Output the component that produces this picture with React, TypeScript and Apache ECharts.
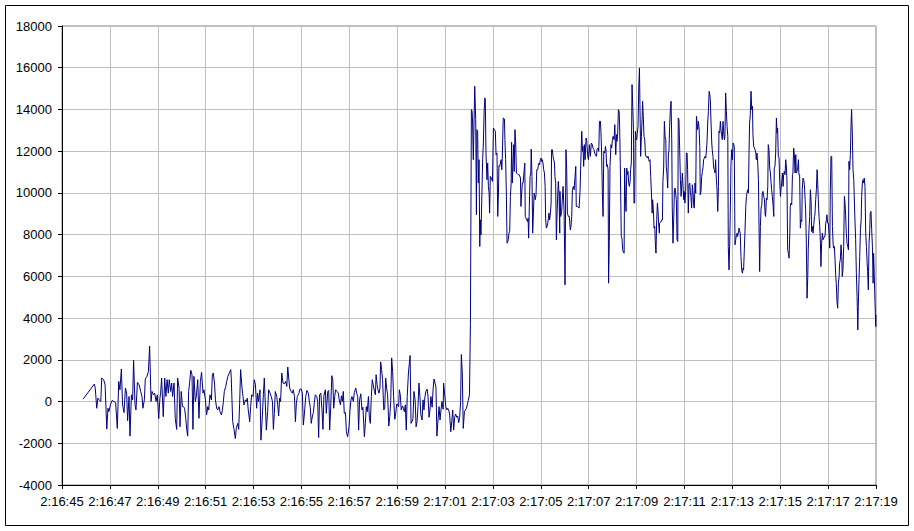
import React, { useEffect, useRef } from "react";
import * as echarts from "echarts";

// x: seconds after 2:16:45, y: value
const yTicks = { min: -4000, max: 18000, step: 2000 };
const xRange = { min: 0, max: 34, step: 2 };
const startTime = { h: 2, m: 16, s: 45 };

const lowPart1: [number, number][] = [
  [0.88,113],[1.35,837],[1.39,644],[1.45,-322],[1.50,161],[1.57,48],[1.62,0],[1.66,1127],[1.74,1047],[1.80,805],
  [1.87,-1320],[1.92,-322],[1.96,-483],[2.02,-161],[2.09,48],[2.17,0],[2.24,-48],[2.31,-1288],[2.37,966],[2.42,564],
  [2.48,1562],[2.53,-161],[2.59,-531],[2.65,644],[2.70,403],[2.74,-918],[2.80,242],[2.84,-1658],[2.90,322],[2.95,80],
  [2.99,1980],[3.05,-161],[3.09,-403],[3.15,918],[3.22,805],[3.29,483],[3.34,242],[3.38,-322],[3.44,80],[3.48,1079],
  [3.55,1208],[3.61,1449],[3.66,2657],[3.69,1369],[3.72,0],[3.76,483],[3.82,322],[3.87,403],[3.93,0],[3.98,322],
  [4.04,-821],[4.09,161],
];
const lowPart2: [number, number][] = [
  [4.12,403],[4.16,1127],[4.23,-725],[4.29,1127],[4.34,242],[4.39,1047],[4.44,403],[4.48,1047],[4.54,483],[4.58,886],
  [4.62,242],[4.68,886],[4.73,-805],[4.79,-1336],[4.83,1127],[4.89,644],[4.93,-1208],[4.98,483],[5.03,-242],[5.07,-242],
  [5.12,-322],[5.17,-805],[5.21,-1336],[5.25,-1658],[5.29,483],[5.33,886],[5.38,1497],[5.43,1288],[5.47,-1336],[5.51,1208],
  [5.57,0],[5.61,242],[5.67,1047],[5.72,-805],[5.78,966],[5.83,1401],[5.89,403],[5.93,564],[5.99,80],[6.04,-644],
  [6.09,-242],[6.13,-403],[6.18,322],[6.24,80],[6.28,1288],[6.32,1369],[6.37,886],[6.41,80],[6.46,-322],[6.50,-403],
  [6.56,-242],[6.60,-483],[6.66,-644],[6.70,-403],[6.74,0],[6.78,483],[6.84,725],[6.88,966],[6.93,1208],[6.99,1369],
  [7.05,1530],[7.07,1127],[7.13,-966],[7.19,-1369],[7.24,-1771],[7.28,-1288],[7.34,-1047],[7.38,-1336],[7.42,-80],[7.46,1530],
  [7.52,644],[7.56,242],[7.60,-161],[7.66,80],[7.70,0],[7.74,161],[7.78,-403],[7.84,-966],[7.88,-242],[7.92,322],
  [7.98,242],[8.03,1047],[8.08,805],[8.13,-322],[8.17,403],[8.21,0],[8.27,564],[8.31,-1851],[8.36,-886],[8.41,322],
  [8.45,1127],
];
const lowPart3: [number, number][] = [
  [8.535,-1369],[8.59,-483],[8.63,564],[8.69,403],[8.74,242],[8.79,0],[8.83,-1336],[8.87,-564],[8.91,483],[8.97,242],
  [9.01,-161],[9.05,-692],[9.09,161],[9.13,0],[9.18,1369],[9.23,886],[9.29,853],[9.34,966],[9.39,725],[9.43,1658],
  [9.47,1127],[9.51,644],[9.57,483],[9.62,403],[9.66,564],[9.71,242],[9.75,-966],[9.79,-80],[9.83,242],[9.89,370],
  [9.94,596],[10.0,596],[10.04,403],[10.08,-1127],[10.12,-644],[10.18,242],[10.23,531],[10.29,403],[10.33,0],[10.37,-274],
  [10.41,-1047],[10.46,-692],[10.50,-531],[10.54,-48],[10.58,322],[10.64,242],[10.68,0],[10.72,-1723],[10.76,322],[10.81,403],
  [10.86,-403],[10.90,-1336],[10.94,274],[11.0,564],[11.04,-564],[11.10,483],[11.14,531],[11.18,-1369],[11.22,-403],[11.27,1240],
  [11.31,1047],[11.35,-322],[11.39,242],[11.43,564],[11.49,483],[11.54,403],[11.58,80],[11.63,-161],[11.67,274],[11.71,0],
  [11.75,483],[11.79,-564],[11.84,-531],[11.88,-1449],[11.93,-1690],[11.99,-1208],[12.03,-403],[12.07,80],[12.11,242],[12.17,0],
  [12.21,435],[12.27,644],[12.31,403],[12.35,242],[12.39,-1369],[12.43,80],[12.48,370],[12.53,-403],[12.57,-274],[12.63,-1690],
];
const lowPart4: [number, number][] = [
  [12.67,-1047],[12.71,-242],[12.75,-483],[12.80,242],[12.84,-805],[12.88,-1047],[12.92,242],[12.96,1047],[13.0,805],[13.05,483],
  [13.09,322],[13.12,1288],[13.16,805],[13.2,564],[13.24,403],[13.28,644],[13.31,1900],[13.35,1530],[13.39,1047],[13.44,-403],
  [13.48,-322],[13.52,1127],[13.56,644],[13.60,322],[13.65,-1175],[13.69,-725],[13.73,0],[13.77,2093],[13.81,1449],[13.85,242],
  [13.90,-853],[13.94,-564],[13.98,-113],[14.02,-161],[14.06,-242],[14.09,564],[14.13,322],[14.17,-403],[14.22,-209],[14.26,-322],
  [14.30,-483],[14.34,-161],[14.38,-1369],[14.42,242],[14.47,1369],[14.51,1852],[14.54,2206],[14.58,-1047],[14.62,-966],[14.66,-805],
  [14.70,483],[14.75,80],[14.79,-1208],[14.83,-966],[14.87,-242],[14.91,886],[14.95,242],[14.99,-644],[15.04,-886],[15.08,80],
  [15.12,-403],[15.16,242],[15.20,483],[15.25,596],[15.29,242],[15.33,-757],[15.37,-403],[15.41,242],[15.46,-274],[15.5,596],
  [15.54,1079],[15.58,886],[15.62,692],[15.66,-1658],[15.71,-805],[15.75,-242],[15.79,-886],[15.83,-403],[15.87,0],[15.92,-370],
  [15.94,886],[15.98,403],[16.03,-242],[16.07,-403],[16.11,-322],[16.15,-403],[16.19,-596],[16.24,-1449],[16.28,-966],[16.32,-403],
  [16.36,-1369],[16.40,-757],[16.44,-596],[16.49,-757],[16.53,-692],[16.57,-1014],[16.61,-757],[16.65,0],[16.68,2254],[16.72,1369],
  [16.76,-1288],[16.81,-483],[16.85,-403],[16.89,-322],[16.93,-161],[16.97,48],[17.02,322],
];
const highPart1: [number, number][] = [
  [17.06,3752],[17.10,13992],[17.13,13912],[17.15,13352],[17.18,11592],[17.21,13352],[17.24,15112],[17.28,13512],[17.31,8952],[17.33,13032],
  [17.36,12952],[17.39,10472],[17.42,11592],[17.45,7432],[17.47,8712],[17.50,7992],[17.53,9512],[17.57,11592],[17.60,12392],[17.63,13832],
  [17.66,14552],[17.68,14472],[17.71,11912],[17.75,10632],[17.78,11432],[17.81,10312],[17.84,9992],[17.86,9032],[17.89,10792],[17.93,10712],
  [17.98,10552],[18.02,13112],[18.06,13032],[18.10,12952],[18.13,11832],[18.17,11912],[18.20,8872],[18.23,9992],[18.25,11304],[18.28,11272],
  [18.31,11432],[18.34,11592],[18.37,11112],[18.39,11672],[18.43,13592],[18.48,13544],[18.50,12552],[18.53,11592],[18.56,9992],[18.59,7592],
  [18.62,7672],[18.64,7752],[18.67,8072],[18.70,8152],[18.73,9832],[18.76,10472],[18.78,12424],[18.81,10472],[18.84,11432],[18.87,12312],
  [18.89,11032],[18.92,13032],[18.95,12392],[18.98,10952],[19.02,10920],[19.06,10872],[19.10,10872],[19.15,10712],[19.17,9352],[19.20,9992],
  [19.23,10472],[19.26,10472],[19.30,11032],[19.33,11432],[19.35,8872],[19.38,8792],[19.41,8712],[19.44,8632],[19.47,8792],[19.49,7832],
  [19.52,9352],[19.55,10792],[19.58,10952],[19.60,12104],[19.63,10792],[19.66,8072],[19.69,9032],[19.72,9992],[19.74,9912],[19.77,9672],
  [19.80,9912],[19.83,11112],[19.87,11112],[19.90,11352],[19.93,11432],[19.95,11352],[19.98,11592],[20.01,11672],[20.04,11512],[20.06,11592],
  [20.09,11432],[20.12,11112],[20.15,10952],[20.18,10312],[20.20,8792],[20.23,8312],[20.26,8392],[20.29,8552],[20.32,8792],[20.34,9032],
  [20.37,8712],[20.40,9032],[20.43,9512],[20.45,12072],[20.48,12072],[20.51,11752],[20.54,11592],[20.57,11432],[20.59,10792],[20.62,10472],
  [20.65,7752],[20.68,9032],[20.70,9752],[20.73,10552],[20.76,9992],[20.79,8072],
];
const highPart2: [number, number][] = [
  [20.80,10072],[20.83,8872],[20.87,9112],[20.93,10312],[20.97,9192],[21.0,6792],[21.01,5592],[21.05,12072],[21.08,11112],[21.11,9032],
  [21.15,8872],[21.19,8872],[21.23,8232],[21.26,8392],[21.29,8872],[21.32,10152],[21.36,10312],[21.39,10152],[21.43,10792],[21.46,11272],
  [21.48,9352],[21.54,9352],[21.60,9272],[21.64,10152],[21.68,11832],[21.71,12952],[21.74,11992],[21.76,12232],[21.79,11272],[21.82,12312],
  [21.85,11592],[21.89,12632],[21.92,12472],[21.96,11752],[21.99,11592],[22.03,12312],[22.07,11752],[22.11,12392],[22.15,12312],[22.18,12152],
  [22.22,12072],[22.25,11912],[22.28,11832],[22.32,11752],[22.35,12072],[22.39,12152],[22.42,11992],[22.45,13432],[22.49,13432],[22.51,12952],
  [22.54,11912],[22.57,9992],[22.60,8872],[22.63,11992],[22.67,11912],[22.70,12232],[22.72,12072],[22.75,11272],[22.78,11352],[22.81,11112],
  [22.83,5672],[22.86,7672],[22.89,11272],[22.93,12312],[22.96,12152],[22.99,12552],[23.02,12712],[23.06,12552],[23.09,13272],[23.13,11832],
  [23.16,12792],[23.18,12472],[23.21,12872],[23.24,13992],[23.27,13912],[23.29,13352],[23.32,11352],[23.36,7912],[23.39,7832],[23.42,7272],
  [23.45,7144],[23.48,7112],[23.50,11192],[23.53,9832],[23.56,9112],[23.59,11192],[23.61,10872],[23.64,11032],[23.67,10472],[23.70,10312],
  [23.73,10552],[23.75,11112],[23.78,11432],[23.81,15192],[23.84,14152],[23.87,13032],[23.89,9512],[23.92,9512],[23.95,12952],[23.98,12552],
  [24.01,12552],[24.03,12872],[24.06,13192],[24.09,15032],[24.12,15992],[24.14,14232],[24.17,11752],[24.20,12712],[24.23,13512],[24.25,14392],
  [24.28,13672],[24.31,12712],[24.34,12552],[24.37,11832],[24.39,11752],[24.42,11752],[24.45,11672],[24.48,11752],[24.51,11592],[24.53,11512],
  [24.56,11592],[24.59,10792],[24.62,9992],[24.65,9032],[24.67,9672],[24.70,9192],[24.73,8312],[24.76,8392],[24.78,7672],[24.81,7112],
  [24.84,8712],[24.87,9512],[24.90,9032],[24.92,8552],[24.95,8072],
];
const highPart3: [number, number][] = [
  [24.96,8552],[25.01,8600],[25.05,8712],[25.08,8712],[25.10,10552],[25.13,11192],[25.16,13432],[25.19,12712],[25.22,12552],[25.24,11272],
  [25.27,10872],[25.30,10232],[25.33,11912],[25.35,11992],[25.38,13192],[25.41,13992],[25.44,14392],[25.47,12392],[25.49,9352],[25.52,7592],
  [25.55,8712],[25.58,10152],[25.61,10232],[25.63,9992],[25.66,9672],[25.69,7752],[25.72,7672],[25.74,13592],[25.77,13512],[25.80,12072],
  [25.83,10632],[25.86,9832],[25.88,10232],[25.91,10952],[25.94,10312],[25.97,9672],[25.99,10072],[26.02,9512],[26.05,10072],[26.08,11912],
  [26.11,11912],[26.13,11112],[26.16,9032],[26.19,10392],[26.22,10472],[26.25,9992],[26.27,9832],[26.30,9272],[26.33,10392],[26.36,9992],
  [26.39,9352],[26.41,9272],[26.44,10472],[26.47,9992],[26.50,13672],[26.52,13432],[26.55,13032],[26.58,13432],[26.61,13112],[26.64,12232],
  [26.66,9912],[26.69,10072],[26.72,10792],[26.75,11032],[26.78,11272],[26.80,11592],[26.83,11672],[26.86,11752],[26.89,11672],[26.91,11672],
  [26.94,12392],[26.97,13352],[27.0,13912],[27.03,14872],[27.05,14792],[27.08,14472],[27.11,13352],[27.14,12392],[27.16,12072],[27.19,11752],
  [27.22,11192],[27.25,11112],[27.28,10952],[27.30,11592],[27.33,10712],[27.36,10152],[27.39,9112],[27.42,10312],[27.44,12952],[27.47,12872],
  [27.50,13432],[27.53,12952],[27.55,12792],[27.58,12552],[27.61,13432],[27.64,12872],[27.67,12552],[27.69,12712],[27.72,14792],[27.75,13912],
  [27.78,13192],[27.81,12712],[27.83,7432],[27.86,6312],[27.89,7592],[27.92,9512],[27.94,11272],[27.97,12072],[28.0,11592],[28.03,12392],
  [28.06,12312],[28.08,12232],[28.11,7512],[28.14,7752],[28.17,7992],[28.20,8072],[28.22,7912],[28.25,8072],[28.28,8312],[28.31,8152],
  [28.33,8072],[28.36,6952],[28.39,6312],[28.42,6152],[28.45,6392],[28.47,6312],[28.50,7272],[28.53,8232],[28.56,9352],[28.59,9832],
  [28.61,9992],[28.64,10152],[28.67,9992],[28.70,12152],[28.72,13352],[28.75,13752],[28.78,14872],[28.81,13992],[28.84,14152],[28.86,12792],
  [28.89,12232],[28.92,12152],[28.95,12072],[28.98,11912],[29.0,11592],[29.03,11912],[29.06,11432],[29.09,10632],[29.11,8792],[29.14,6232],
];
const highPart4: [number, number][] = [
  [29.17,8392],[29.20,9272],[29.23,9432],[29.25,9992],[29.28,10072],[29.31,9832],[29.34,9672],[29.37,8952],[29.39,8872],[29.42,9752],
  [29.45,9672],[29.48,10312],[29.50,12312],[29.53,12072],[29.56,11192],[29.59,10952],[29.62,10472],[29.64,10152],[29.67,9832],[29.70,9432],
  [29.73,8872],[29.75,11192],[29.78,11272],[29.81,11912],[29.84,13592],[29.87,12872],[29.89,13112],[29.92,11752],[29.95,11672],[29.98,10472],
  [30.01,9832],[30.03,10152],[30.06,10472],[30.09,10952],[30.12,10312],[30.14,10872],[30.17,11032],[30.20,10872],[30.23,11592],[30.26,11192],
  [30.28,10632],[30.31,7272],[30.34,7112],[30.37,6872],[30.40,8072],[30.42,9352],[30.45,9512],[30.48,9432],[30.51,10872],[30.53,10952],
  [30.56,12152],[30.59,11832],[30.62,10952],[30.65,11832],[30.67,10952],[30.70,11032],[30.73,11192],[30.76,11592],[30.78,10872],[30.81,10872],
  [30.84,8312],[30.87,8712],[30.90,8632],[30.92,10152],[30.95,10712],[30.98,10632],[31.01,10392],[31.04,9672],[31.06,9192],[31.09,7592],
  [31.12,4952],[31.15,5992],[31.17,7272],[31.20,8232],[31.23,8872],[31.26,10152],[31.29,9592],[31.31,8152],[31.34,8392],[31.37,8072],
  [31.40,8472],[31.43,8872],[31.45,8952],[31.48,9672],[31.51,10152],[31.54,11112],[31.56,10632],[31.59,9672],[31.62,8872],[31.65,8392],
  [31.68,7592],[31.70,6472],[31.73,7592],[31.76,8072],[31.79,7752],[31.82,7832],[31.84,7912],[31.87,7912],[31.90,8552],[31.93,8712],
  [31.95,8952],[31.98,8552],[32.01,8552],[32.04,8072],[32.07,7352],[32.09,9992],[32.12,11752],[32.15,11752],[32.18,8392],[32.21,7512],
  [32.23,7352],[32.26,7432],[32.29,6792],[32.32,5992],[32.34,5672],[32.37,4792],[32.40,4472],[32.43,5672],[32.46,5992],[32.48,6632],
  [32.51,6792],[32.54,7512],[32.57,6952],[32.59,5992],[32.62,6312],[32.65,7432],[32.68,9832],[32.71,9432],[32.73,8952],[32.76,8072],
  [32.79,7592],[32.82,7432],[32.85,7272],[32.87,11512],[32.90,11112],[32.93,11832],[32.96,13352],[32.98,13992],[33.01,12872],[33.04,11112],
  [33.07,10632],[33.10,9512],[33.12,8712],[33.15,7752],[33.18,6152],[33.21,5032],[33.24,3432],[33.26,4552],[33.29,5832],[33.32,6952],
  [33.35,8232],[33.38,8712],[33.40,9832],[33.43,10472],[33.46,10632],[33.49,10472],[33.51,10712],[33.54,10312],[33.57,8072],[33.60,7432],
  [33.63,6632],[33.65,6232],[33.68,5352],[33.71,7592],[33.74,8232],[33.76,9032],[33.79,9112],[33.82,8232],[33.85,7432],[33.88,5672],
  [33.90,7112],[33.93,5992],[33.96,4712],[33.99,3592],[34.0,4152],
];

const FONT = "'Liberation Sans', Arial, sans-serif";

function timeLabel(v: number): string {
  const total = startTime.h * 3600 + startTime.m * 60 + startTime.s + Math.round(v);
  const h = Math.floor(total / 3600);
  const m = Math.floor((total % 3600) / 60);
  const s = total % 60;
  return `${h}:${String(m).padStart(2, "0")}:${String(s).padStart(2, "0")}`;
}

export default function App() {
  const ref = useRef<HTMLDivElement>(null);
  useEffect(() => {
    if (!ref.current) return;
    const chart = echarts.init(ref.current, undefined, { renderer: "svg" });
    const data = [...lowPart1, ...lowPart2, ...lowPart3, ...lowPart4, ...highPart1, ...highPart2, ...highPart3, ...highPart4];
    chart.setOption({
      animation: false,
      backgroundColor: "#ffffff",
      grid: {
        left: 62,
        right: 38,
        top: 26,
        bottom: 46,
        show: true,
        borderColor: "#808080",
        borderWidth: 1,
        backgroundColor: "#ffffff",
      },
      graphic: [
        {
          type: "rect",
          shape: { x: 5.5, y: 5.5, width: 903, height: 520 },
          style: { fill: "none", stroke: "#000000", lineWidth: 1 },
          silent: true,
        },
      ],
      xAxis: {
        type: "value",
        min: xRange.min,
        max: xRange.max,
        interval: xRange.step,
        axisLine: { show: true, onZero: false, lineStyle: { color: "#000000", width: 1 } },
        axisTick: { show: true, length: 4, inside: false, lineStyle: { color: "#000000" } },
        splitLine: { show: true, lineStyle: { color: "#c0c0c0", width: 1 } },
        axisLabel: {
          margin: 10,
          color: "#000000",
          fontFamily: FONT,
          fontSize: 13,
          formatter: (v: number) => timeLabel(v),
          showMinLabel: true,
          showMaxLabel: true,
        },
      },
      yAxis: {
        type: "value",
        min: yTicks.min,
        max: yTicks.max,
        interval: yTicks.step,
        axisLine: { show: true, lineStyle: { color: "#000000", width: 1 } },
        axisTick: { show: true, length: 4, inside: false, lineStyle: { color: "#000000" } },
        splitLine: { show: true, lineStyle: { color: "#c0c0c0", width: 1 } },
        axisLabel: {
          margin: 10,
          color: "#000000",
          fontFamily: FONT,
          fontSize: 13,
          formatter: (v: number) => String(v),
        },
      },
      series: [
        {
          type: "line",
          data,
          showSymbol: false,
          symbol: "none",
          lineStyle: { color: "#000080", width: 1 },
          itemStyle: { color: "#000080" },
        },
      ],
    });
    return () => chart.dispose();
  }, []);
  return (
    <div
      ref={ref}
      style={{ position: "fixed", left: 0, top: 0, width: 914, height: 531, background: "#ffffff" }}
    />
  );
}
